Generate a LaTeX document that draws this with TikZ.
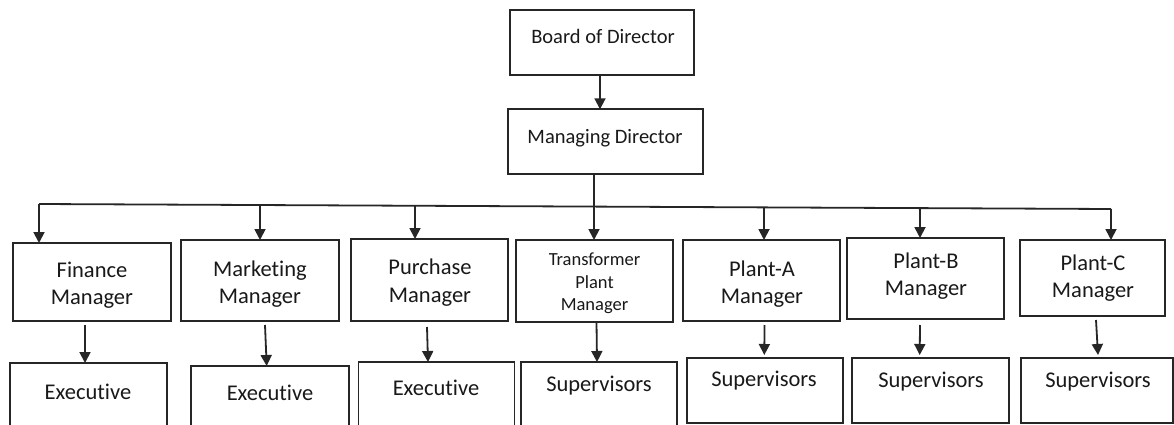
\documentclass[tikz,border=0pt]{standalone}
\usepackage{fontspec}
\setmainfont{Carlito}[Ligatures=NoCommon]
\usetikzlibrary{arrows.meta}
\begin{document}
\begin{tikzpicture}[x=1pt,y=-1pt,
  box/.style={draw=black!85, line width=1.8pt, inner sep=0pt, outer sep=0pt,
    minimum width=#1},
  txt/.style={text=black!90, inner sep=0pt, align=center,
    font=\fontsize{22.5}{27.5}\selectfont},
  toptxt/.style={txt, font=\fontsize{20.5}{24}\selectfont},
  smalltxt/.style={txt, font=\fontsize{18.5}{22.5}\selectfont},
  link/.style={draw=black!85, line width=1.8pt},
  arr/.style={link, -{Triangle[width=11pt,length=11pt]}}]

% page area
\clip (0,0) rectangle (1174,425);
\fill[white] (0,0) rectangle (1174,425);

% top of the chart
\node[box=184, minimum height=65] (bod) at (601.7,42.6) {};
\node[box=195, minimum height=65] (md)  at (605.7,141.8) {};
\node[toptxt, anchor=base] (bodT) at (603,44) {Board of Director};
\node[toptxt, anchor=base] (mdT)  at (605,143.3) {Managing Director};

% managers
\node[box=158, minimum height=78] (fin) at (92,282)    {};
\node[box=158, minimum height=81] (mkt) at (260,280.5) {};
\node[box=157, minimum height=82] (pur) at (429.5,280) {};
\node[box=157, minimum height=82] (trf) at (594.5,281) {};
\node[box=157, minimum height=81] (pa)  at (761.5,280.5) {};
\node[box=157, minimum height=81] (pb)  at (925.5,278.5) {};
\node[box=145, minimum height=76] (pc)  at (1092.5,278) {};

\node[txt] (finT) at (92,285)    {Finance\\Manager};
\node[txt] (mktT) at (260,284)   {Marketing\\Manager};
\node[txt] (purT) at (430,282.5) {Purchase\\Manager};
\node[smalltxt] (trfT) at (594.5,283.5) {Transformer\\Plant\\Manager};
\node[txt] (paT)  at (762,284)   {Plant-A\\Manager};
\node[txt] (pbT)  at (926,276)   {Plant-B\\Manager};
\node[txt] (pcT)  at (1093,278)  {Plant-C\\Manager};

% staff level
\node[box=157, minimum height=77] (e1) at (88.5,401.5) {};
\node[box=158, minimum height=74] (e2) at (270,403)    {};
\node[box=156, minimum height=78] (e3) at (436.5,401)  {};
\node[box=156, minimum height=78] (s1) at (599,401)    {};
\node[box=156, minimum height=65] (s2) at (765,390.5)  {};
\node[box=157, minimum height=65] (s3) at (930.5,390.5) {};
\node[box=152, minimum height=65] (s4) at (1097,390.5) {};

\node[txt, anchor=base] (e1T) at (88,399)    {Executive};
\node[txt, anchor=base] (e2T) at (270,400)   {Executive};
\node[txt, anchor=base] (e3T) at (436,395)   {Executive};
\node[txt, anchor=base] (s1T) at (599,391)   {Supervisors};
\node[txt, anchor=base] (s2T) at (764,386.7) {Supervisors};
\node[txt, anchor=base] (s3T) at (931,387.3) {Supervisors};
\node[txt, anchor=base] (s4T) at (1098,387.3) {Supervisors};

% distribution bus under the managing director
\coordinate (b1) at (39,204);
\coordinate (b2) at (260,205);
\coordinate (b3) at (415,205.8);
\coordinate (b4) at (594,206.6);
\coordinate (b5) at (764,207.4);
\coordinate (b6) at (920,208.1);
\coordinate (b7) at (1111,209);

\draw[link] (b1) -- (b7);

\draw[arr] (bod.south -| 600,0) -- (md.north -| 600,0);
\draw[arr] (md.south -| b4) -- (trf.north -| b4);
\draw[arr] (b1) -- (fin.north -| b1);
\draw[arr] (b2) -- (mkt.north -| b2);
\draw[arr] (b3) -- (pur.north -| b3);
\draw[arr] (b5) -- (pa.north -| b5);
\draw[arr] (b6) -- (pb.north -| b6);
\draw[arr] (b7) -- (pc.north -| b7);

% manager to staff
\draw[arr] ([xshift=-7pt,yshift=-4pt]fin.south) -- ([xshift=-3.5pt]e1.north);
\draw[arr] ([xshift=5pt,yshift=-4pt]mkt.south) -- ([xshift=-3.3pt]e2.north);
\draw[arr] ([xshift=-2.5pt,yshift=-6pt]pur.south) -- ([xshift=-8.5pt]e3.north);
\draw[arr] ([xshift=2pt]trf.south) -- ([xshift=-2pt]s1.north);
\draw[arr] ([xshift=3pt,yshift=-4pt]pa.south) -- ([xshift=-0.7pt,yshift=3pt]s2.north);
\draw[arr] ([xshift=-5.5pt,yshift=-6pt]pb.south) -- ([xshift=-10.8pt,yshift=3pt]s3.north);
\draw[arr] ([xshift=3.5pt,yshift=-4pt]pc.south) -- ([xshift=1pt,yshift=3pt]s4.north);
\end{tikzpicture}
\end{document}
